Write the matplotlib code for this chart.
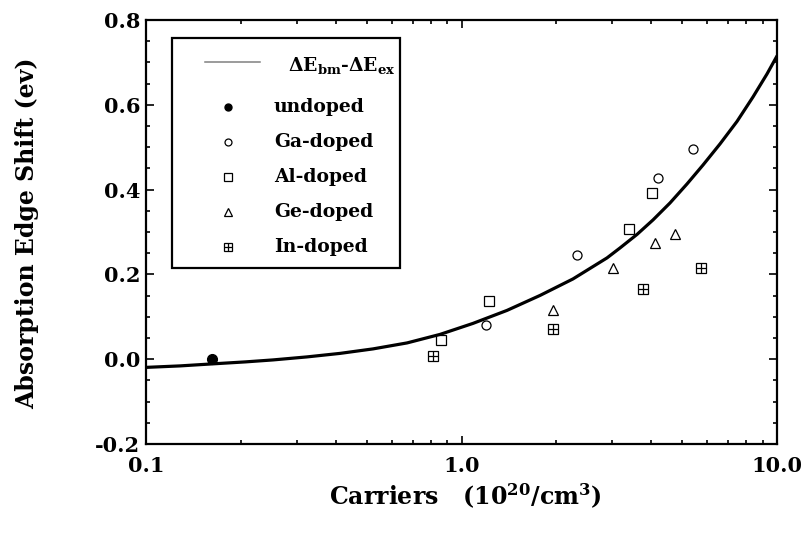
import matplotlib
matplotlib.use("Agg")
import matplotlib.pyplot as plt
from matplotlib.patches import Rectangle
from matplotlib.ticker import MultipleLocator, FixedLocator, NullFormatter

plt.rcParams['font.family'] = ['DejaVu Serif']
plt.rcParams['font.weight'] = 'bold'
plt.rcParams['mathtext.fontset'] = 'dejavuserif'

# ---- data ----
curve_x = [0.100, 0.1282, 0.1619, 0.2060, 0.2527, 0.3237, 0.4120, 0.5242, 0.6722,
           0.8551, 1.087, 1.394, 1.774, 2.256, 2.892, 3.180, 3.600, 4.046, 4.580,
           5.185, 5.829, 6.597, 7.467, 8.393, 9.296, 10.0]
curve_y = [-0.0193, -0.0158, -0.0111, -0.0064, -0.0017, 0.0054, 0.0137, 0.0243, 0.0384,
           0.0585, 0.0844, 0.1151, 0.1504, 0.1893, 0.2389, 0.2624, 0.2943, 0.3285, 0.3685,
           0.4133, 0.4581, 0.5077, 0.5607, 0.6185, 0.6727, 0.7152]

undoped_x = [0.162]
undoped_y = [0.0]

ga_x = [1.20, 2.32, 4.20, 5.42]
ga_y = [0.080, 0.245, 0.428, 0.495]

al_x = [0.861, 1.22, 3.40, 4.02]
al_y = [0.045, 0.138, 0.308, 0.393]

ge_x = [1.95, 3.02, 4.10, 4.75]
ge_y = [0.117, 0.215, 0.275, 0.295]

in_x = [0.812, 1.95, 3.76, 5.74]
in_y = [0.008, 0.071, 0.165, 0.215]

xticks = [0.1, 1.0, 10.0]
xticklabels = ['0.1', '1.0', '10.0']
yticks = [-0.2, 0.0, 0.2, 0.4, 0.6, 0.8]
yticklabels = ['-0.2', '0.0', '0.2', '0.4', '0.6', '0.8']

curve_label = r'$\mathbf{\Delta E_{bm}}$-$\mathbf{\Delta E_{ex}}$'
marker_labels = ['undoped', 'Ga-doped', 'Al-doped', 'Ge-doped', 'In-doped']

# ---- figure ----
W, H = 801, 539
AX_L, AX_R, AX_T, AX_B = 146, 777, 20, 444
fig = plt.figure(figsize=(W / 100, H / 100), dpi=100)
ax = fig.add_axes([AX_L / W, 1 - AX_B / H, (AX_R - AX_L) / W, (AX_B - AX_T) / H])


def axfrac(px, py):
    return (px - AX_L) / (AX_R - AX_L), (AX_B - py) / (AX_B - AX_T)


ax.plot(curve_x, curve_y, color='black', lw=2.3, solid_capstyle='round',
        solid_joinstyle='round', zorder=2)

mew = 0.9
ax.plot(undoped_x, undoped_y, 'o', ms=7, color='black', zorder=3)
ax.plot(ga_x, ga_y, 'o', ms=6.5, mfc='none', mec='black', mew=mew, zorder=3)
ax.plot(al_x, al_y, 's', ms=7, mfc='none', mec='black', mew=mew, zorder=3)
ax.plot(ge_x, ge_y, '^', ms=7, mfc='none', mec='black', mew=mew, zorder=3)
ax.plot(in_x, in_y, 's', ms=6.5, mfc='none', mec='black', mew=mew, zorder=3)
ax.plot(in_x, in_y, '+', ms=6.5, mec='black', mew=mew, zorder=3)

ax.set_xscale('log')
ax.set_xlim(0.1, 10.0)
ax.set_ylim(-0.2, 0.8)

ax.xaxis.set_major_locator(FixedLocator(xticks))
ax.set_xticklabels(xticklabels)
minors = [m * d for d in (0.1, 1.0) for m in range(2, 10)]
ax.xaxis.set_minor_locator(FixedLocator(minors))
ax.xaxis.set_minor_formatter(NullFormatter())
ax.set_yticks(yticks)
ax.set_yticklabels(yticklabels)
ax.yaxis.set_minor_locator(MultipleLocator(0.05))

ax.tick_params(which='both', direction='in', top=True, right=True, width=1.2)
ax.tick_params(which='major', length=6, labelsize=15, pad=4)
ax.tick_params(which='minor', length=3.2)
ax.tick_params(axis='x', which='major', pad=9)
for lab in ax.get_xticklabels() + ax.get_yticklabels():
    lab.set_fontweight('bold')
for sp in ax.spines.values():
    sp.set_linewidth(1.6)

ax.set_xlabel(r'Carriers   (10$^{\mathbf{20}}$/cm$^{\mathbf{3}}$)', fontsize=17, fontweight='bold')
ax.set_ylabel('Absorption Edge Shift (ev)', fontsize=17, fontweight='bold')
ax.xaxis.set_label_coords(*axfrac(465, 482))
ax.yaxis.set_label_coords(*axfrac(39, 233))

# ---- legend (drawn in axes-fraction coordinates) ----
x0, y0 = axfrac(172, 268)
x1, y1 = axfrac(400, 38)
ax.add_patch(Rectangle((x0, y0), x1 - x0, y1 - y0, transform=ax.transAxes,
                       facecolor='white', edgecolor='black', lw=1.6, zorder=4))

lx0, ly = axfrac(205, 62)
lx1, _ = axfrac(260, 62)
ax.plot([lx0, lx1], [ly, ly], color='#808080', lw=1.1, transform=ax.transAxes, zorder=5)
tx, ty = axfrac(288, 66)
ax.text(tx, ty, curve_label, transform=ax.transAxes, fontsize=13.5, fontweight='bold',
        ha='left', va='center', zorder=5)

rows = [107, 142, 177, 212, 247]
styles = [dict(marker='o', ms=5, mfc='black', mec='black'),
          dict(marker='o', ms=5, mfc='none', mec='black', mew=mew),
          dict(marker='s', ms=5.5, mfc='none', mec='black', mew=mew),
          dict(marker='^', ms=5.5, mfc='none', mec='black', mew=mew),
          dict(marker='s', ms=5.5, mfc='none', mec='black', mew=mew)]
for py, lab, st in zip(rows, marker_labels, styles):
    mx, my = axfrac(228, py)
    ax.plot([mx], [my], ls='none', transform=ax.transAxes, zorder=5, **st)
    if lab == 'In-doped':
        ax.plot([mx], [my], ls='none', marker='+', ms=5.5, mec='black', mew=mew,
                transform=ax.transAxes, zorder=5)
    tx, ty = axfrac(274, py)
    ax.text(tx, ty, lab, transform=ax.transAxes, fontsize=13.5, fontweight='bold',
            ha='left', va='center', zorder=5)

fig.savefig('out.png', dpi=100)
